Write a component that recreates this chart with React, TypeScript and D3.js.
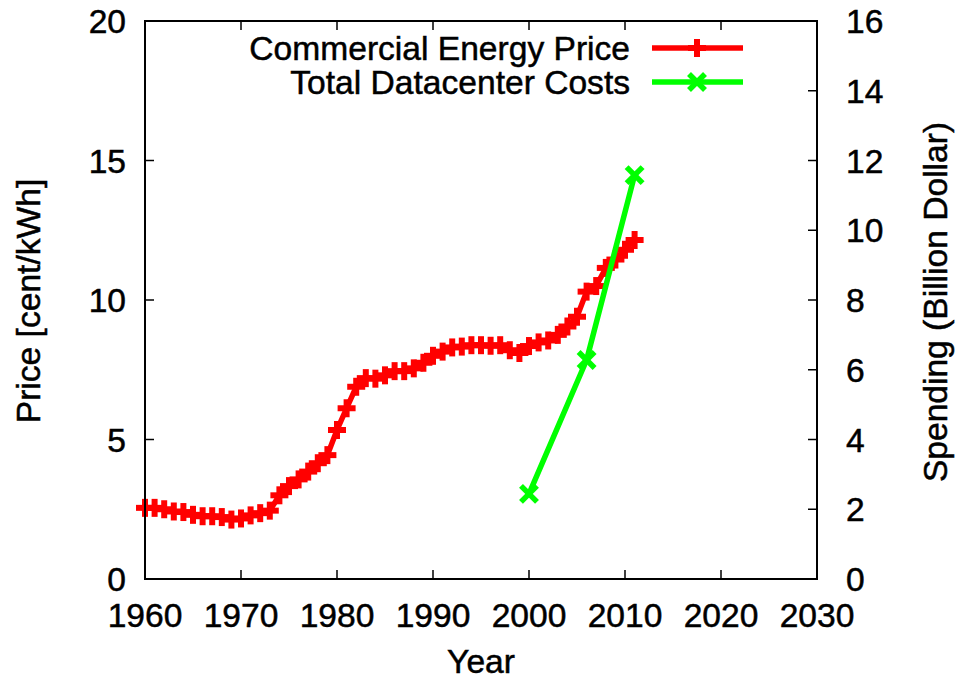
import React from 'react';
import * as d3 from 'd3';

const years = d3.range(1960, 2012);
const priceValues = [
  2.55, 2.55, 2.5, 2.42, 2.4, 2.3, 2.25, 2.25, 2.22, 2.13,
  2.17, 2.28, 2.36, 2.45, 3.0, 3.33, 3.57, 3.85, 4.15, 4.44,
  5.34, 6.12, 6.89, 7.2, 7.18, 7.3, 7.45, 7.45, 7.55, 7.75,
  8.0, 8.15, 8.3, 8.33, 8.38, 8.38, 8.36, 8.38, 8.2, 8.1,
  8.35, 8.48, 8.55, 8.75, 9.05, 9.4, 10.3, 10.5, 11.15, 11.45,
  11.8, 12.15,
];
const costYears = [2000, 2006, 2011];
const costValues = [2.44, 6.28, 11.58];

const xTicks = [1960, 1970, 1980, 1990, 2000, 2010, 2020, 2030];
const yTicks = [0, 5, 10, 15, 20];
const y2Ticks = [0, 2, 4, 6, 8, 10, 12, 14, 16];
const legendLabels = ['Commercial Energy Price', 'Total Datacenter Costs'];

const W = 955, H = 681;
const L = 145, R = 817, T = 21, B = 579;
const FONT = '"Liberation Sans", Arial, Helvetica, sans-serif';
const FS = 33.6;
const RED = '#ff0000';
const GREEN = '#00ff00';

export default function App() {
  const x = d3.scaleLinear().domain([1960, 2030]).range([L, R]);
  const y = d3.scaleLinear().domain([0, 20]).range([B, T]);
  const y2 = d3.scaleLinear().domain([0, 16]).range([B, T]);

  const priceLine = d3.line<number>().x((_, i) => x(years[i])).y((d) => y(d));
  const costLine = d3.line<number>().x((_, i) => x(costYears[i])).y((d) => y2(d));

  const plus = (cx: number, cy: number, key: string) => (
    <g key={key} stroke={RED} strokeWidth={6} strokeLinecap="butt">
      <line x1={cx - 9} x2={cx + 9} y1={cy} y2={cy} />
      <line x1={cx} x2={cx} y1={cy - 9} y2={cy + 9} />
    </g>
  );
  const cross = (cx: number, cy: number, key: string) => (
    <g key={key} stroke={GREEN} strokeWidth={5.5} strokeLinecap="butt">
      <line x1={cx - 8} x2={cx + 8} y1={cy - 8} y2={cy + 8} />
      <line x1={cx - 8} x2={cx + 8} y1={cy + 8} y2={cy - 8} />
    </g>
  );

  const tickLen = 9;
  return (
    <svg width={W} height={H} style={{ position: 'absolute', left: 0, top: 0, background: '#fff' }}>
      <rect x={0} y={0} width={W} height={H} fill="#fff" />
      {/* ticks */}
      {xTicks.map((t) => (
        <g key={'xt' + t} stroke="#000" strokeWidth={1.5}>
          <line x1={x(t)} x2={x(t)} y1={B} y2={B - tickLen} />
          <line x1={x(t)} x2={x(t)} y1={T} y2={T + tickLen} />
        </g>
      ))}
      {yTicks.map((t) => (
        <line key={'yt' + t} x1={L} x2={L + tickLen} y1={y(t)} y2={y(t)} stroke="#000" strokeWidth={1.5} />
      ))}
      {y2Ticks.map((t) => (
        <line key={'y2t' + t} x1={R} x2={R - tickLen} y1={y2(t)} y2={y2(t)} stroke="#000" strokeWidth={1.5} />
      ))}
      <g fontFamily={FONT} fontSize={FS} fill="#000" stroke="#000" strokeWidth={0.5}>
        {/* tick labels */}
        {xTicks.map((t) => (
          <text key={'xl' + t} x={x(t)} y={627} textAnchor="middle">{t}</text>
        ))}
        {yTicks.map((t) => (
          <text key={'yl' + t} x={126} y={y(t) + 12} textAnchor="end">{t}</text>
        ))}
        {y2Ticks.map((t) => (
          <text key={'y2l' + t} x={846} y={y2(t) + 12} textAnchor="start">{t}</text>
        ))}
        {/* axis labels */}
        <text x={(L + R) / 2} y={673} textAnchor="middle">Year</text>
        <text transform={`translate(40,301) rotate(-90)`} textAnchor="middle">Price [cent/kWh]</text>
        <text transform={`translate(947,302) rotate(-90)`} textAnchor="middle">Spending (Billion Dollar)</text>
        {/* legend text */}
        <text x={630} y={60} textAnchor="end">{legendLabels[0]}</text>
        <text x={630} y={94} textAnchor="end">{legendLabels[1]}</text>
      </g>
      {/* data */}
      <path d={priceLine(priceValues) || ''} fill="none" stroke={RED} strokeWidth={5.5} strokeLinejoin="round" />
      {priceValues.map((v, i) => plus(x(years[i]), y(v), 'p' + i))}
      <path d={costLine(costValues) || ''} fill="none" stroke={GREEN} strokeWidth={5.5} strokeLinejoin="round" />
      {costValues.map((v, i) => cross(x(costYears[i]), y2(v), 'c' + i))}
      {/* legend samples */}
      <line x1={652} x2={743} y1={48} y2={48} stroke={RED} strokeWidth={5.5} />
      {plus(697, 48, 'lp')}
      <line x1={652} x2={743} y1={82} y2={82} stroke={GREEN} strokeWidth={5.5} />
      {cross(697, 82, 'lc')}
      {/* frame */}
      <rect x={L} y={T} width={R - L} height={B - T} fill="none" stroke="#000" strokeWidth={2} />
    </svg>
  );
}
